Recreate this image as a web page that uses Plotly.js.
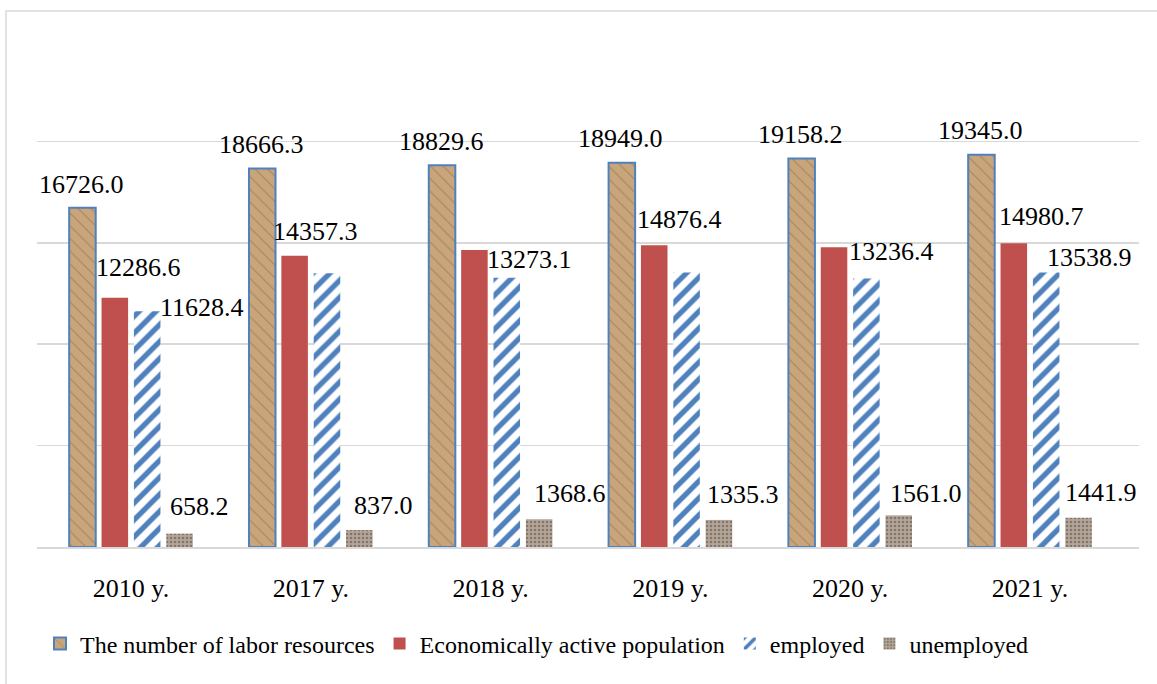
<!DOCTYPE html>
<html>
<head>
<meta charset="utf-8">
<script src="https://cdn.plot.ly/plotly-3.0.1.min.js"></script>
<style>
  html, body { margin: 0; padding: 0; background: #ffffff; }
  #chart { width: 1157px; height: 684px; }
</style>
</head>
<body>
<div id="chart"></div>
<script>
// ---------- data ----------
const categories = ['2010 y.', '2017 y.', '2018 y.', '2019 y.', '2020 y.', '2021 y.'];
const seriesNames = ['The number of labor resources', 'Economically active population', 'employed', 'unemployed'];
const laborResources = [16726.0, 18666.3, 18829.6, 18949.0, 19158.2, 19345.0];
const economicallyActive = [12286.6, 14357.3, 14650.0, 14876.4, 14780.0, 14980.7];
const employed = [11628.4, 13500.0, 13273.1, 13530.0, 13236.4, 13538.9];
const unemployed = [658.2, 837.0, 1368.6, 1335.3, 1561.0, 1441.9];
// labels as printed on the chart (null = no label shown)
const laborLabels = ['16726.0', '18666.3', '18829.6', '18949.0', '19158.2', '19345.0'];
const activeLabels = ['12286.6', '14357.3', null, '14876.4', null, '14980.7'];
const employedLabels = ['11628.4', null, '13273.1', null, '13236.4', '13538.9'];
const unemployedLabels = ['658.2', '837.0', '1368.6', '1335.3', '1561.0', '1441.9'];

// ---------- style: label offsets in px (x from category centre, y above bar top) ----------
const laborShiftX = [-49.5, -49.5, -49.5, -49.5, -49.5, -49.5];
const laborShiftY = [23, 24, 24, 24, 24, 24];
const activeShiftX = [7, 4.5, 0, 9.5, 0, 11];
const activeShiftY = [30, 24, 0, 26, 0, 27];
const employedShiftX = [71, 0, 39, 0, 41, 59];
const employedShiftY = [4, 0, 18, 0, 27, 15];
const unemployedShiftX = [68, 73, 79, 73, 76, 71];
const unemployedShiftY = [27, 25, 26, 25, 22, 25];

const FONT = 'Liberation Serif';

const traces = [
  {
    type: 'bar', name: seriesNames[0], x: categories, y: laborResources,
    marker: {
      color: '#c6a178',
      line: { color: '#4f81bd', width: 2 },
      pattern: { shape: '\\', fgcolor: '#7a5a38', bgcolor: '#c9a57c', fgopacity: 0.45, size: 9, solidity: 0.12 }
    },
    hoverinfo: 'y'
  },
  {
    type: 'bar', name: seriesNames[1], x: categories, y: economicallyActive,
    marker: { color: '#c0504d', line: { width: 0 } },
    hoverinfo: 'y'
  },
  {
    type: 'bar', name: seriesNames[2], x: categories, y: employed,
    marker: {
      color: '#ffffff',
      line: { width: 0 },
      pattern: { shape: '/', fgcolor: '#4f81bd', bgcolor: '#ffffff', size: 12, solidity: 0.45 }
    },
    hoverinfo: 'y'
  },
  {
    type: 'bar', name: seriesNames[3], x: categories, y: unemployed,
    marker: {
      color: '#a99b8d',
      line: { width: 0 },
      pattern: { shape: '.', fgcolor: '#6f6257', bgcolor: '#b3a699', fgopacity: 0.7, size: 4, solidity: 0.35 }
    },
    hoverinfo: 'y'
  }
];

const annotations = [];
function addLabels(values, labels, sx, sy) {
  for (let i = 0; i < categories.length; i++) {
    if (labels[i] === null) continue;
    annotations.push({
      x: categories[i], y: values[i], xref: 'x', yref: 'y',
      text: labels[i], showarrow: false,
      xanchor: 'center', yanchor: 'middle',
      xshift: sx[i], yshift: sy[i],
      font: { family: FONT, size: 26, color: '#000000' }
    });
  }
}
addLabels(laborResources, laborLabels, laborShiftX, laborShiftY);
addLabels(economicallyActive, activeLabels, activeShiftX, activeShiftY);
addLabels(employed, employedLabels, employedShiftX, employedShiftY);
addLabels(unemployed, unemployedLabels, unemployedShiftX, unemployedShiftY);

const layout = {
  width: 1157, height: 684,
  margin: { l: 37, r: 18, t: 40, b: 137, pad: 0 },
  paper_bgcolor: '#ffffff', plot_bgcolor: '#ffffff',
  font: { family: FONT, size: 24, color: '#000000' },
  barmode: 'group',
  bargap: 0.28,
  bargroupgap: 0.18,
  showlegend: true,
  legend: {
    orientation: 'h',
    xref: 'container', yref: 'container',
    x: 40 / 1157, xanchor: 'left',
    y: 1 - 644 / 684, yanchor: 'middle',
    font: { family: FONT, size: 24, color: '#000000' },
    bgcolor: 'rgba(0,0,0,0)',
    itemclick: false, itemdoubleclick: false
  },
  xaxis: {
    type: 'category',
    showgrid: false, zeroline: false,
    showline: true, linecolor: '#d9d9d9', linewidth: 1.5,
    ticks: '',
    ticklabelstandoff: 17,
    tickfont: { family: FONT, size: 26, color: '#000000' },
    fixedrange: true
  },
  yaxis: {
    range: [0, 25000], dtick: 5000,
    showgrid: true, gridcolor: '#d9d9d9', gridwidth: 1.5,
    zeroline: false, showline: false,
    showticklabels: false, ticks: '',
    fixedrange: true
  },
  annotations: annotations,
  shapes: [
    {
      type: 'rect', xref: 'paper', yref: 'paper',
      x0: (6 - 37) / 1102, x1: 1.3, y0: -0.5, y1: (547 - 11) / 507,
      line: { color: '#d9d9d9', width: 1.5 }, fillcolor: 'rgba(0,0,0,0)', layer: 'below'
    }
  ]
};

Plotly.newPlot('chart', traces, layout, { displayModeBar: false, staticPlot: true });
</script>
</body>
</html>
